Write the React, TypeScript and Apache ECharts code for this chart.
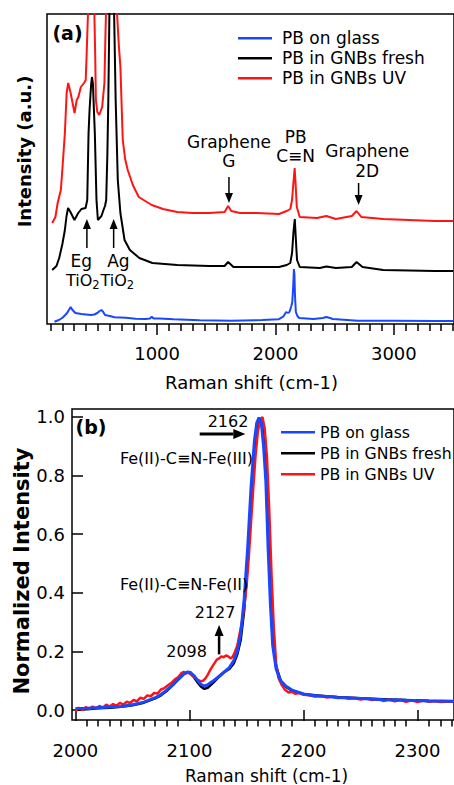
import React, { useEffect, useRef } from "react";
import * as echarts from "echarts";

const FONT = "DejaVu Sans";
const BLUE = "#1947ff";
const RED = "#ff1414";
const BLACK = "#000000";
const SERIES_NAMES = ["PB on glass", "PB in GNBs fresh", "PB in GNBs UV"];

// ---------- Panel (a): Raman shift (cm-1) vs intensity (a.u., offset traces) ----------
const glassA: [number, number][] = [
  [133, 2.3], [170, 4], [198, 6], [220, 8.5], [240, 11], [255, 14], [270, 17], [285, 14], [310, 11],
  [335, 10.5], [360, 10], [400, 9.5], [440, 9], [470, 9.5], [495, 11], [515, 13], [530, 14], [545, 12],
  [560, 9], [580, 8.5], [600, 8], [640, 6.7], [690, 6.5], [737, 6.3], [818, 5.3], [900, 5], [940, 5.5],
  [955, 7.3], [970, 5.5], [1020, 5.5], [1140, 4.7], [1360, 3.7], [1623, 3.3], [1890, 4], [2025, 4.7],
  [2065, 7.3], [2090, 12], [2105, 11], [2118, 12], [2132, 17], [2142, 22], [2150, 38], [2156, 55],
  [2160, 50], [2165, 28], [2172, 12], [2185, 8], [2200, 6], [2320, 5], [2400, 6], [2430, 7], [2460, 6],
  [2485, 5], [2695, 3.3], [3000, 3.2], [3345, 3], [3500, 3],
];
const freshA: [number, number][] = [
  [114, 54], [150, 58], [173, 66], [200, 80], [221, 94], [235, 108], [248, 116], [268, 112], [302, 104],
  [334, 111], [361, 115], [396, 116], [410, 124], [421, 191], [430, 215], [443, 240], [450, 247],
  [458, 240], [466, 215], [474, 191], [488, 124], [500, 104], [530, 108], [550, 115], [560, 118],
  [570, 124], [580, 170], [588, 224], [597, 310], [610, 380], [620, 400], [628, 380], [637, 310],
  [650, 224], [668, 144], [690, 111], [725, 84], [770, 74], [850, 66], [960, 61], [1170, 59], [1440, 58],
  [1570, 58], [1600, 62], [1645, 57], [1845, 57], [2030, 57], [2095, 59], [2125, 61], [2140, 71],
  [2152, 92], [2163, 105], [2172, 85], [2182, 64], [2205, 57], [2375, 56], [2430, 57.5], [2510, 56],
  [2645, 57], [2685, 62], [2735, 57], [2910, 54], [3345, 53], [3500, 53],
];
const uvA: [number, number][] = [
  [114, 101], [141, 107], [160, 121], [187, 134], [200, 155], [221, 191], [236, 231], [249, 241],
  [268, 232], [286, 221], [303, 211], [321, 224], [335, 227], [356, 237], [383, 241], [397, 244],
  [405, 270], [416, 310], [430, 380], [445, 400], [458, 380], [470, 310], [477, 270], [483, 224],
  [495, 212], [511, 209], [536, 217], [555, 241], [562, 280], [568, 310], [590, 400], [630, 420],
  [650, 380], [662, 310], [676, 280], [690, 257], [710, 184], [730, 165], [752, 154], [795, 139],
  [845, 127], [900, 123], [955, 119], [1050, 115], [1170, 112], [1300, 111], [1440, 111], [1570, 112],
  [1600, 118], [1626, 113], [1700, 111], [1840, 111], [2030, 110], [2095, 113], [2125, 115],
  [2140, 124], [2152, 142], [2162, 156], [2170, 140], [2180, 117], [2205, 107], [2350, 106],
  [2430, 108], [2510, 105], [2645, 108], [2685, 113], [2725, 107], [2910, 105], [3345, 103], [3500, 103],
];
const ticksA_major = [1000, 2000, 3000];
const ticksA_minor = [100, 200, 300, 400, 500, 600, 700, 800, 900, 1100, 1200, 1300, 1400, 1500, 1600, 1700,
  1800, 1900, 2100, 2200, 2300, 2400, 2500, 2600, 2700, 2800, 2900, 3100, 3200, 3300, 3400, 3500];

// ---------- Panel (b): normalized intensity ----------
const glassB: [number, number][] = [
  [2000, 0.005], [2010, 0.006], [2020, 0.008], [2030, 0.01], [2040, 0.012], [2050, 0.018], [2060, 0.027],
  [2070, 0.042], [2075, 0.053], [2080, 0.068], [2085, 0.085], [2090, 0.105], [2095, 0.123], [2098, 0.13],
  [2101, 0.128], [2104, 0.117], [2107, 0.101], [2110, 0.088], [2113, 0.082], [2116, 0.086], [2120, 0.097],
  [2125, 0.112], [2130, 0.128], [2135, 0.145], [2139, 0.17], [2142, 0.2], [2145, 0.26], [2148, 0.38],
  [2151, 0.55], [2154, 0.76], [2157, 0.92], [2159, 0.98], [2161, 0.998], [2163, 0.98], [2165, 0.9],
  [2167, 0.78], [2169, 0.55], [2171, 0.36], [2173, 0.22], [2176, 0.14], [2180, 0.1], [2185, 0.08],
  [2190, 0.068], [2200, 0.055], [2210, 0.049], [2220, 0.046], [2230, 0.043], [2250, 0.039], [2270, 0.035],
  [2290, 0.033], [2310, 0.031], [2335, 0.03],
];
const freshB: [number, number][] = [
  [2000, 0.0], [2010, 0.003], [2020, 0.006], [2030, 0.008], [2040, 0.011], [2050, 0.016], [2060, 0.025],
  [2070, 0.04], [2075, 0.05], [2080, 0.065], [2085, 0.083], [2090, 0.103], [2095, 0.122], [2098, 0.128],
  [2101, 0.125], [2104, 0.112], [2107, 0.095], [2110, 0.08], [2113, 0.072], [2116, 0.076], [2120, 0.09],
  [2125, 0.11], [2130, 0.128], [2135, 0.14], [2139, 0.16], [2142, 0.19], [2145, 0.24], [2148, 0.34],
  [2151, 0.5], [2154, 0.7], [2157, 0.88], [2159, 0.96], [2161, 0.99], [2163, 0.995], [2165, 0.93],
  [2167, 0.82], [2169, 0.6], [2171, 0.4], [2173, 0.24], [2176, 0.15], [2180, 0.1], [2185, 0.078],
  [2190, 0.066], [2200, 0.055], [2210, 0.05], [2220, 0.047], [2230, 0.044], [2250, 0.04], [2270, 0.037],
  [2290, 0.034], [2310, 0.032], [2335, 0.03],
];
const uvB: [number, number][] = [
  [2000, -0.005], [2003, 0.008], [2006, 0.0], [2009, 0.01], [2012, 0.003], [2015, 0.012], [2018, 0.006],
  [2021, 0.014], [2024, 0.008], [2027, 0.018], [2030, 0.012], [2033, 0.02], [2036, 0.015], [2039, 0.024],
  [2042, 0.018], [2045, 0.028], [2048, 0.024], [2051, 0.034], [2054, 0.03], [2057, 0.042], [2060, 0.038],
  [2063, 0.05], [2066, 0.047], [2069, 0.058], [2072, 0.056], [2075, 0.07], [2078, 0.075], [2081, 0.084],
  [2084, 0.092], [2087, 0.104], [2090, 0.112], [2093, 0.126], [2095, 0.13], [2097, 0.125], [2099, 0.128],
  [2101, 0.122], [2104, 0.113], [2107, 0.104], [2110, 0.098], [2112, 0.1], [2114, 0.108], [2116, 0.12],
  [2118, 0.135], [2120, 0.148], [2122, 0.16], [2124, 0.172], [2126, 0.176], [2128, 0.183], [2130, 0.18],
  [2132, 0.186], [2134, 0.183], [2136, 0.176], [2138, 0.182], [2140, 0.2], [2142, 0.22], [2144, 0.26],
  [2146, 0.3], [2148, 0.35], [2150, 0.42], [2152, 0.52], [2154, 0.64], [2156, 0.76], [2158, 0.87],
  [2160, 0.95], [2162, 0.99], [2164, 1.0], [2166, 0.96], [2168, 0.86], [2170, 0.68], [2172, 0.46],
  [2174, 0.28], [2176, 0.16], [2178, 0.11], [2181, 0.085], [2184, 0.068], [2187, 0.06], [2190, 0.062],
  [2193, 0.055], [2196, 0.058], [2200, 0.052], [2205, 0.05], [2210, 0.046], [2215, 0.048], [2220, 0.043],
  [2225, 0.046], [2230, 0.041], [2235, 0.043], [2240, 0.038], [2245, 0.041], [2250, 0.036], [2255, 0.04],
  [2260, 0.034], [2265, 0.037], [2270, 0.031], [2275, 0.036], [2280, 0.03], [2285, 0.034], [2290, 0.028],
  [2295, 0.033], [2300, 0.027], [2305, 0.032], [2310, 0.028], [2315, 0.031], [2320, 0.027], [2335, 0.03],
];
const ticksB_major = [2000, 2100, 2200, 2300];
const ticksB_minor = [2010, 2020, 2030, 2040, 2050, 2060, 2070, 2080, 2090, 2110, 2120, 2130, 2140, 2150,
  2160, 2170, 2180, 2190, 2210, 2220, 2230, 2240, 2250, 2260, 2270, 2280, 2290, 2310, 2320, 2330];
const ticksB_y = [0, 0.2, 0.4, 0.6, 0.8, 1.0];

const tickLine = { color: "#000", width: 1.5 };
const labelStyle = { fontFamily: FONT, fontSize: 18, color: "#000" };

function lineSeries(name: string, data: [number, number][], color: string, width: number, xi: number, yi: number, z: number) {
  return {
    name, type: "line", data, xAxisIndex: xi, yAxisIndex: yi, color, symbol: "none", showSymbol: false,
    lineStyle: { color, width }, itemStyle: { color }, clip: true, silent: true, z,
  };
}

function arrow(p1: number[], p2: number[], lw: number, headLen: number, headW: number) {
  const dx = p2[0] - p1[0], dy = p2[1] - p1[1];
  const L = Math.hypot(dx, dy);
  const ux = dx / L, uy = dy / L;
  const bx = p2[0] - ux * headLen, by = p2[1] - uy * headLen;
  const nx = -uy, ny = ux;
  return [
    { type: "line", z: 100, shape: { x1: p1[0], y1: p1[1], x2: bx, y2: by }, style: { stroke: "#000", lineWidth: lw } },
    {
      type: "polygon", z: 100,
      shape: { points: [[p2[0], p2[1]], [bx + (nx * headW) / 2, by + (ny * headW) / 2], [bx - (nx * headW) / 2, by - (ny * headW) / 2]] },
      style: { fill: "#000" },
    },
  ];
}

function txt(text: string, p: number[], size: number, align = "center", weight = "normal", rotation = 0) {
  return {
    type: "text", z: 100, x: p[0], y: p[1], rotation,
    style: { text, fontFamily: FONT, fontSize: size, fontWeight: weight, fill: "#000", align, verticalAlign: "middle" },
  };
}

function tio2(p: number[]) {
  return {
    type: "text", z: 100, x: p[0], y: p[1],
    style: {
      text: "{m|TiO}{s|2}", align: "center", verticalAlign: "middle", fill: "#000",
      rich: {
        m: { fontFamily: FONT, fontSize: 16, lineHeight: 22, fill: "#000" },
        s: { fontFamily: FONT, fontSize: 11.5, lineHeight: 12, verticalAlign: "bottom", fill: "#000" },
      },
    },
  };
}

export default function App() {
  const ref = useRef<HTMLDivElement>(null);
  useEffect(() => {
    if (!ref.current) return;
    const chart = echarts.init(ref.current, null, { renderer: "svg" });
    const option: any = {
      animation: false,
      backgroundColor: "#fff",
      grid: [
        { left: 47, top: 14, width: 427, height: 310, show: true, borderColor: "#000", borderWidth: 1.5, backgroundColor: "transparent" },
        { left: 72, top: 409, width: 402, height: 311, show: true, borderColor: "#000", borderWidth: 1.5, backgroundColor: "transparent" },
      ],
      xAxis: [
        {
          gridIndex: 0, type: "value", min: 70, max: 3508, position: "bottom",
          axisLine: { show: false }, splitLine: { show: false },
          axisTick: { show: true, length: 11, lineStyle: tickLine, customValues: ticksA_major },
          axisLabel: { ...labelStyle, margin: 20, customValues: ticksA_major, formatter: (v: number) => String(v) },
        },
        {
          gridIndex: 0, type: "value", min: 70, max: 3508, position: "bottom",
          axisLine: { show: false }, splitLine: { show: false },
          axisTick: { show: true, length: 7, lineStyle: tickLine, customValues: ticksA_minor },
          axisLabel: { show: false },
        },
        {
          gridIndex: 1, type: "value", min: 1997, max: 2332, position: "bottom",
          axisLine: { show: false }, splitLine: { show: false },
          axisTick: { show: true, length: 11, lineStyle: tickLine, customValues: ticksB_major },
          axisLabel: { ...labelStyle, margin: 21, customValues: ticksB_major, formatter: (v: number) => String(v) },
        },
        {
          gridIndex: 1, type: "value", min: 1997, max: 2332, position: "bottom",
          axisLine: { show: false }, splitLine: { show: false },
          axisTick: { show: true, length: 6.5, lineStyle: tickLine, customValues: ticksB_minor },
          axisLabel: { show: false },
        },
      ],
      yAxis: [
        { gridIndex: 0, type: "value", min: 0, max: 310, show: false },
        {
          gridIndex: 1, type: "value", min: -0.0341, max: 1.0273,
          axisLine: { show: false }, splitLine: { show: false },
          axisTick: { show: true, inside: true, length: 11, lineStyle: tickLine, customValues: ticksB_y },
          axisLabel: { ...labelStyle, margin: 7, customValues: ticksB_y, formatter: (v: number) => v.toFixed(1) },
        },
      ],
      legend: [
        {
          left: 233, top: 23.3, orient: "vertical", itemWidth: 34, itemHeight: 2.6, itemGap: 0, icon: "rect",
          selectedMode: false, data: SERIES_NAMES,
          textStyle: { fontFamily: FONT, fontSize: 17, lineHeight: 20, color: "#000", padding: [0, 0, 0, 5] },
        },
        {
          left: 276, top: 416.8, orient: "vertical", itemWidth: 34, itemHeight: 2.6, itemGap: 0, icon: "rect",
          selectedMode: false, data: SERIES_NAMES,
          textStyle: { fontFamily: FONT, fontSize: 15.7, lineHeight: 21, color: "#000" },
        },
      ],
      series: [
        lineSeries(SERIES_NAMES[0], glassA, BLUE, 2, 0, 0, 3),
        lineSeries(SERIES_NAMES[1], freshA, BLACK, 2, 0, 0, 4),
        lineSeries(SERIES_NAMES[2], uvA, RED, 2, 0, 0, 5),
        lineSeries(SERIES_NAMES[1], freshB, BLACK, 2.5, 2, 1, 3),
        lineSeries(SERIES_NAMES[2], uvB, RED, 2.5, 2, 1, 4),
        lineSeries(SERIES_NAMES[0], glassB, BLUE, 3, 2, 1, 5),
      ],
    };
    chart.setOption(option);

    const pa = (x: number, y: number) => chart.convertToPixel({ xAxisIndex: 0, yAxisIndex: 0 } as any, [x, y]) as number[];
    const pb = (x: number, y: number) => chart.convertToPixel({ xAxisIndex: 2, yAxisIndex: 1 } as any, [x, y]) as number[];

    const graphics: any[] = [
      // axis names
      txt("Intensity (a.u.)", [24, 151.5], 18, "center", "bold", Math.PI / 2),
      txt("Raman shift (cm-1)", [251.5, 382], 18),
      txt("Normalized Intensity", [22, 571], 21, "center", "bold", Math.PI / 2),
      txt("Raman shift (cm-1)", [266.5, 776], 17),
      // panel labels
      txt("(a)", [67.5, 33], 19, "center", "bold"),
      txt("(b)", [91, 427], 19, "center", "bold"),
      // panel (a) annotations
      txt("Graphene", pa(1607, 182), 17),
      txt("G", pa(1607, 163), 17),
      ...arrow(pa(1607, 147), pa(1607, 121), 1.5, 10, 8),
      txt("PB", pa(2170, 187), 17),
      txt("C≡N", pa(2170, 168), 17),
      txt("Graphene", pa(2775, 173), 17),
      txt("2D", pa(2775, 153), 17),
      ...arrow(pa(2702, 141), pa(2702, 119), 1.5, 10, 8),
      ...arrow(pa(407, 76), pa(407, 105), 1.5, 10, 8),
      ...arrow(pa(633, 76), pa(633, 105), 1.5, 10, 8),
      txt("Eg", pa(359, 63), 17),
      txt("Ag", pa(673, 63), 17),
      tio2(pa(373, 44)),
      tio2(pa(664, 44)),
      // panel (b) annotations
      txt("2162", pb(2151.7, 0.983), 16, "right"),
      ...arrow(pb(2109, 0.942), pb(2149, 0.942), 3, 12, 10),
      txt("Fe(II)-C≡N-Fe(III)", pb(2039, 0.857), 16, "left"),
      txt("Fe(II)-C≡N-Fe(II)", pb(2039, 0.427), 16, "left"),
      txt("2127", pb(2122.5, 0.334), 16),
      ...arrow(pb(2126, 0.19), pb(2126, 0.29), 2.5, 11, 9),
      txt("2098", pb(2097.5, 0.198), 16),
    ];
    chart.setOption({ graphic: graphics });
    return () => chart.dispose();
  }, []);
  return <div ref={ref} style={{ position: "absolute", left: 0, top: 0, width: 454, height: 785 }} />;
}
